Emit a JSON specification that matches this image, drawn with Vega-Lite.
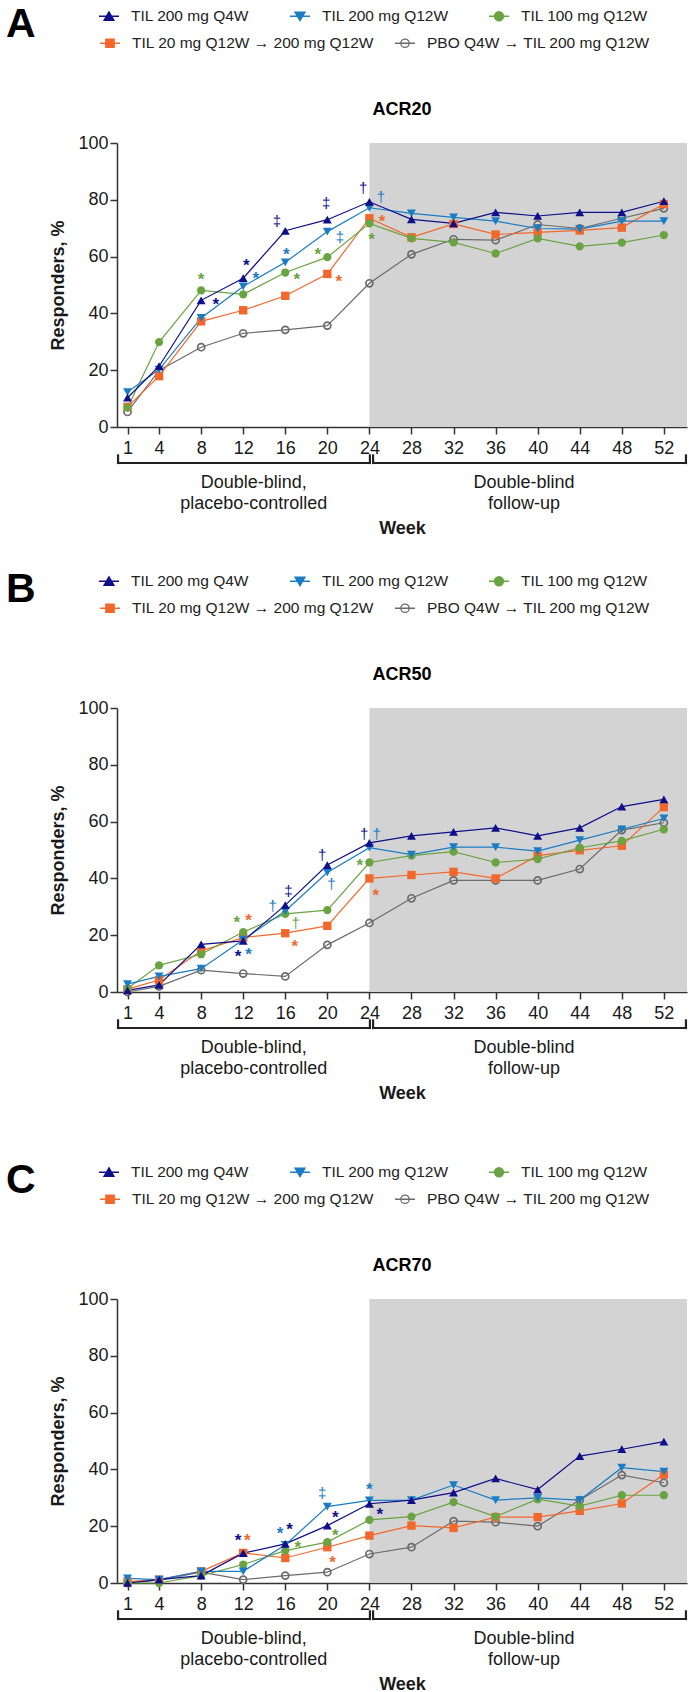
{
  "$schema": "https://vega.github.io/schema/vega-lite/v6.json",
  "background": "white",
  "padding": {"left": 6, "top": 5, "right": 0, "bottom": 0},
  "config": {
    "font": "Liberation Sans",
    "view": {"stroke": null},
    "axis": {"grid": false, "domainColor": "#333333", "tickColor": "#333333", "domainWidth": 1.5, "tickWidth": 1.5, "labelColor": "#1a1a1a", "titleColor": "#1a1a1a", "labelFontSize": 18, "titleFontSize": 18, "titleFontWeight": "bold", "tickSize": 7, "zindex": 1},
    "legend": {"orient": "none", "direction": "horizontal", "rowPadding": 7, "titleOrient": "left", "titleAnchor": "start", "titleBaseline": "top", "titleFontSize": 41, "titleFontWeight": "bold", "titleColor": "#000000", "titlePadding": 62, "symbolSize": 400, "symbolStrokeWidth": 1.3, "labelFontSize": 15.5, "labelOffset": 11, "labelColor": "#222222", "labelLimit": 400}
  },
  "datasets": {
    "shade": [{"start": 24, "end": 54.2}],
    "phases": [
      {"label": "Double-blind,\nplacebo-controlled", "start": 0.1, "end": 24.05, "center": 13},
      {"label": "Double-blind\nfollow-up", "start": 24.35, "end": 54.1, "center": 38.7}
    ],
    "acr20": [
      {"s": "PBO Q4W → TIL 200 mg Q12W", "w": 1, "v": 5.3}, {"s": "PBO Q4W → TIL 200 mg Q12W", "w": 4, "v": 19.9}, {"s": "PBO Q4W → TIL 200 mg Q12W", "w": 8, "v": 28.1}, {"s": "PBO Q4W → TIL 200 mg Q12W", "w": 12, "v": 33.0}, {"s": "PBO Q4W → TIL 200 mg Q12W", "w": 16, "v": 34.2}, {"s": "PBO Q4W → TIL 200 mg Q12W", "w": 20, "v": 35.7}, {"s": "PBO Q4W → TIL 200 mg Q12W", "w": 24, "v": 50.6}, {"s": "PBO Q4W → TIL 200 mg Q12W", "w": 28, "v": 60.8}, {"s": "PBO Q4W → TIL 200 mg Q12W", "w": 32, "v": 66.1}, {"s": "PBO Q4W → TIL 200 mg Q12W", "w": 36, "v": 65.8}, {"s": "PBO Q4W → TIL 200 mg Q12W", "w": 40, "v": 71.3}, {"s": "PBO Q4W → TIL 200 mg Q12W", "w": 44, "v": 69.9}, {"s": "PBO Q4W → TIL 200 mg Q12W", "w": 48, "v": 73.5}, {"s": "PBO Q4W → TIL 200 mg Q12W", "w": 52, "v": 77.0},
      {"s": "TIL 20 mg Q12W → 200 mg Q12W", "w": 1, "v": 7.1}, {"s": "TIL 20 mg Q12W → 200 mg Q12W", "w": 4, "v": 17.9}, {"s": "TIL 20 mg Q12W → 200 mg Q12W", "w": 8, "v": 37.2}, {"s": "TIL 20 mg Q12W → 200 mg Q12W", "w": 12, "v": 41.1}, {"s": "TIL 20 mg Q12W → 200 mg Q12W", "w": 16, "v": 46.2}, {"s": "TIL 20 mg Q12W → 200 mg Q12W", "w": 20, "v": 53.9}, {"s": "TIL 20 mg Q12W → 200 mg Q12W", "w": 24, "v": 73.5}, {"s": "TIL 20 mg Q12W → 200 mg Q12W", "w": 28, "v": 66.8}, {"s": "TIL 20 mg Q12W → 200 mg Q12W", "w": 32, "v": 71.5}, {"s": "TIL 20 mg Q12W → 200 mg Q12W", "w": 36, "v": 67.8}, {"s": "TIL 20 mg Q12W → 200 mg Q12W", "w": 40, "v": 68.5}, {"s": "TIL 20 mg Q12W → 200 mg Q12W", "w": 44, "v": 69.2}, {"s": "TIL 20 mg Q12W → 200 mg Q12W", "w": 48, "v": 70.2}, {"s": "TIL 20 mg Q12W → 200 mg Q12W", "w": 52, "v": 78.5},
      {"s": "TIL 100 mg Q12W", "w": 1, "v": 6.8}, {"s": "TIL 100 mg Q12W", "w": 4, "v": 29.9}, {"s": "TIL 100 mg Q12W", "w": 8, "v": 48.1}, {"s": "TIL 100 mg Q12W", "w": 12, "v": 46.7}, {"s": "TIL 100 mg Q12W", "w": 16, "v": 54.4}, {"s": "TIL 100 mg Q12W", "w": 20, "v": 59.8}, {"s": "TIL 100 mg Q12W", "w": 24, "v": 71.7}, {"s": "TIL 100 mg Q12W", "w": 28, "v": 66.4}, {"s": "TIL 100 mg Q12W", "w": 32, "v": 65.0}, {"s": "TIL 100 mg Q12W", "w": 36, "v": 61.1}, {"s": "TIL 100 mg Q12W", "w": 40, "v": 66.4}, {"s": "TIL 100 mg Q12W", "w": 44, "v": 63.6}, {"s": "TIL 100 mg Q12W", "w": 48, "v": 64.9}, {"s": "TIL 100 mg Q12W", "w": 52, "v": 67.6},
      {"s": "TIL 200 mg Q12W", "w": 1, "v": 12.3}, {"s": "TIL 200 mg Q12W", "w": 4, "v": 20.2}, {"s": "TIL 200 mg Q12W", "w": 8, "v": 38.4}, {"s": "TIL 200 mg Q12W", "w": 12, "v": 49.5}, {"s": "TIL 200 mg Q12W", "w": 16, "v": 58.0}, {"s": "TIL 200 mg Q12W", "w": 20, "v": 68.8}, {"s": "TIL 200 mg Q12W", "w": 24, "v": 77.2}, {"s": "TIL 200 mg Q12W", "w": 28, "v": 75.2}, {"s": "TIL 200 mg Q12W", "w": 32, "v": 73.8}, {"s": "TIL 200 mg Q12W", "w": 36, "v": 72.5}, {"s": "TIL 200 mg Q12W", "w": 40, "v": 69.9}, {"s": "TIL 200 mg Q12W", "w": 44, "v": 69.7}, {"s": "TIL 200 mg Q12W", "w": 48, "v": 72.5}, {"s": "TIL 200 mg Q12W", "w": 52, "v": 72.5},
      {"s": "TIL 200 mg Q4W", "w": 1, "v": 10.3}, {"s": "TIL 200 mg Q4W", "w": 4, "v": 21.4}, {"s": "TIL 200 mg Q4W", "w": 8, "v": 44.6}, {"s": "TIL 200 mg Q4W", "w": 12, "v": 52.4}, {"s": "TIL 200 mg Q4W", "w": 16, "v": 69.1}, {"s": "TIL 200 mg Q4W", "w": 20, "v": 73.0}, {"s": "TIL 200 mg Q4W", "w": 24, "v": 79.3}, {"s": "TIL 200 mg Q4W", "w": 28, "v": 73.1}, {"s": "TIL 200 mg Q4W", "w": 32, "v": 71.7}, {"s": "TIL 200 mg Q4W", "w": 36, "v": 75.6}, {"s": "TIL 200 mg Q4W", "w": 40, "v": 74.3}, {"s": "TIL 200 mg Q4W", "w": 44, "v": 75.6}, {"s": "TIL 200 mg Q4W", "w": 48, "v": 75.6}, {"s": "TIL 200 mg Q4W", "w": 52, "v": 79.5}
    ],
    "acr50": [
      {"s": "PBO Q4W → TIL 200 mg Q12W", "w": 1, "v": 0.0}, {"s": "PBO Q4W → TIL 200 mg Q12W", "w": 4, "v": 2.0}, {"s": "PBO Q4W → TIL 200 mg Q12W", "w": 8, "v": 7.7}, {"s": "PBO Q4W → TIL 200 mg Q12W", "w": 12, "v": 6.5}, {"s": "PBO Q4W → TIL 200 mg Q12W", "w": 16, "v": 5.5}, {"s": "PBO Q4W → TIL 200 mg Q12W", "w": 20, "v": 16.6}, {"s": "PBO Q4W → TIL 200 mg Q12W", "w": 24, "v": 24.3}, {"s": "PBO Q4W → TIL 200 mg Q12W", "w": 28, "v": 33.0}, {"s": "PBO Q4W → TIL 200 mg Q12W", "w": 32, "v": 39.3}, {"s": "PBO Q4W → TIL 200 mg Q12W", "w": 36, "v": 39.3}, {"s": "PBO Q4W → TIL 200 mg Q12W", "w": 40, "v": 39.3}, {"s": "PBO Q4W → TIL 200 mg Q12W", "w": 44, "v": 43.3}, {"s": "PBO Q4W → TIL 200 mg Q12W", "w": 48, "v": 57.0}, {"s": "PBO Q4W → TIL 200 mg Q12W", "w": 52, "v": 59.6},
      {"s": "TIL 20 mg Q12W → 200 mg Q12W", "w": 1, "v": 1.0}, {"s": "TIL 20 mg Q12W → 200 mg Q12W", "w": 4, "v": 4.2}, {"s": "TIL 20 mg Q12W → 200 mg Q12W", "w": 8, "v": 14.5}, {"s": "TIL 20 mg Q12W → 200 mg Q12W", "w": 12, "v": 19.2}, {"s": "TIL 20 mg Q12W → 200 mg Q12W", "w": 16, "v": 20.7}, {"s": "TIL 20 mg Q12W → 200 mg Q12W", "w": 20, "v": 23.3}, {"s": "TIL 20 mg Q12W → 200 mg Q12W", "w": 24, "v": 40.0}, {"s": "TIL 20 mg Q12W → 200 mg Q12W", "w": 28, "v": 41.2}, {"s": "TIL 20 mg Q12W → 200 mg Q12W", "w": 32, "v": 42.3}, {"s": "TIL 20 mg Q12W → 200 mg Q12W", "w": 36, "v": 40.0}, {"s": "TIL 20 mg Q12W → 200 mg Q12W", "w": 40, "v": 48.0}, {"s": "TIL 20 mg Q12W → 200 mg Q12W", "w": 44, "v": 49.9}, {"s": "TIL 20 mg Q12W → 200 mg Q12W", "w": 48, "v": 51.5}, {"s": "TIL 20 mg Q12W → 200 mg Q12W", "w": 52, "v": 65.1},
      {"s": "TIL 100 mg Q12W", "w": 1, "v": 1.2}, {"s": "TIL 100 mg Q12W", "w": 4, "v": 9.4}, {"s": "TIL 100 mg Q12W", "w": 8, "v": 13.3}, {"s": "TIL 100 mg Q12W", "w": 12, "v": 21.1}, {"s": "TIL 100 mg Q12W", "w": 16, "v": 27.5}, {"s": "TIL 100 mg Q12W", "w": 20, "v": 28.8}, {"s": "TIL 100 mg Q12W", "w": 24, "v": 45.6}, {"s": "TIL 100 mg Q12W", "w": 28, "v": 48.0}, {"s": "TIL 100 mg Q12W", "w": 32, "v": 49.4}, {"s": "TIL 100 mg Q12W", "w": 36, "v": 45.6}, {"s": "TIL 100 mg Q12W", "w": 40, "v": 46.8}, {"s": "TIL 100 mg Q12W", "w": 44, "v": 50.8}, {"s": "TIL 100 mg Q12W", "w": 48, "v": 53.2}, {"s": "TIL 100 mg Q12W", "w": 52, "v": 57.3},
      {"s": "TIL 200 mg Q12W", "w": 1, "v": 2.8}, {"s": "TIL 200 mg Q12W", "w": 4, "v": 5.5}, {"s": "TIL 200 mg Q12W", "w": 8, "v": 8.2}, {"s": "TIL 200 mg Q12W", "w": 12, "v": 18.4}, {"s": "TIL 200 mg Q12W", "w": 16, "v": 28.5}, {"s": "TIL 200 mg Q12W", "w": 20, "v": 42.1}, {"s": "TIL 200 mg Q12W", "w": 24, "v": 50.8}, {"s": "TIL 200 mg Q12W", "w": 28, "v": 48.4}, {"s": "TIL 200 mg Q12W", "w": 32, "v": 51.0}, {"s": "TIL 200 mg Q12W", "w": 36, "v": 51.0}, {"s": "TIL 200 mg Q12W", "w": 40, "v": 49.6}, {"s": "TIL 200 mg Q12W", "w": 44, "v": 53.5}, {"s": "TIL 200 mg Q12W", "w": 48, "v": 57.3}, {"s": "TIL 200 mg Q12W", "w": 52, "v": 61.1},
      {"s": "TIL 200 mg Q4W", "w": 1, "v": 0.6}, {"s": "TIL 200 mg Q4W", "w": 4, "v": 2.5}, {"s": "TIL 200 mg Q4W", "w": 8, "v": 16.8}, {"s": "TIL 200 mg Q4W", "w": 12, "v": 18.0}, {"s": "TIL 200 mg Q4W", "w": 16, "v": 30.6}, {"s": "TIL 200 mg Q4W", "w": 20, "v": 44.7}, {"s": "TIL 200 mg Q4W", "w": 24, "v": 52.5}, {"s": "TIL 200 mg Q4W", "w": 28, "v": 55.0}, {"s": "TIL 200 mg Q4W", "w": 32, "v": 56.4}, {"s": "TIL 200 mg Q4W", "w": 36, "v": 57.8}, {"s": "TIL 200 mg Q4W", "w": 40, "v": 55.0}, {"s": "TIL 200 mg Q4W", "w": 44, "v": 57.8}, {"s": "TIL 200 mg Q4W", "w": 48, "v": 65.3}, {"s": "TIL 200 mg Q4W", "w": 52, "v": 67.8}
    ],
    "acr70": [
      {"s": "PBO Q4W → TIL 200 mg Q12W", "w": 1, "v": 0.0}, {"s": "PBO Q4W → TIL 200 mg Q12W", "w": 4, "v": 1.0}, {"s": "PBO Q4W → TIL 200 mg Q12W", "w": 8, "v": 3.8}, {"s": "PBO Q4W → TIL 200 mg Q12W", "w": 12, "v": 1.2}, {"s": "PBO Q4W → TIL 200 mg Q12W", "w": 16, "v": 2.6}, {"s": "PBO Q4W → TIL 200 mg Q12W", "w": 20, "v": 3.8}, {"s": "PBO Q4W → TIL 200 mg Q12W", "w": 24, "v": 10.2}, {"s": "PBO Q4W → TIL 200 mg Q12W", "w": 28, "v": 12.6}, {"s": "PBO Q4W → TIL 200 mg Q12W", "w": 32, "v": 21.8}, {"s": "PBO Q4W → TIL 200 mg Q12W", "w": 36, "v": 21.4}, {"s": "PBO Q4W → TIL 200 mg Q12W", "w": 40, "v": 20.0}, {"s": "PBO Q4W → TIL 200 mg Q12W", "w": 44, "v": 29.2}, {"s": "PBO Q4W → TIL 200 mg Q12W", "w": 48, "v": 38.0}, {"s": "PBO Q4W → TIL 200 mg Q12W", "w": 52, "v": 35.3},
      {"s": "TIL 20 mg Q12W → 200 mg Q12W", "w": 1, "v": 0.5}, {"s": "TIL 20 mg Q12W → 200 mg Q12W", "w": 4, "v": 1.2}, {"s": "TIL 20 mg Q12W → 200 mg Q12W", "w": 8, "v": 4.1}, {"s": "TIL 20 mg Q12W → 200 mg Q12W", "w": 12, "v": 10.6}, {"s": "TIL 20 mg Q12W → 200 mg Q12W", "w": 16, "v": 8.8}, {"s": "TIL 20 mg Q12W → 200 mg Q12W", "w": 20, "v": 12.6}, {"s": "TIL 20 mg Q12W → 200 mg Q12W", "w": 24, "v": 16.7}, {"s": "TIL 20 mg Q12W → 200 mg Q12W", "w": 28, "v": 20.2}, {"s": "TIL 20 mg Q12W → 200 mg Q12W", "w": 32, "v": 19.4}, {"s": "TIL 20 mg Q12W → 200 mg Q12W", "w": 36, "v": 23.2}, {"s": "TIL 20 mg Q12W → 200 mg Q12W", "w": 40, "v": 23.2}, {"s": "TIL 20 mg Q12W → 200 mg Q12W", "w": 44, "v": 25.4}, {"s": "TIL 20 mg Q12W → 200 mg Q12W", "w": 48, "v": 28.0}, {"s": "TIL 20 mg Q12W → 200 mg Q12W", "w": 52, "v": 38.2},
      {"s": "TIL 100 mg Q12W", "w": 1, "v": 0.0}, {"s": "TIL 100 mg Q12W", "w": 4, "v": 0.0}, {"s": "TIL 100 mg Q12W", "w": 8, "v": 2.6}, {"s": "TIL 100 mg Q12W", "w": 12, "v": 6.5}, {"s": "TIL 100 mg Q12W", "w": 16, "v": 11.4}, {"s": "TIL 100 mg Q12W", "w": 20, "v": 14.4}, {"s": "TIL 100 mg Q12W", "w": 24, "v": 22.2}, {"s": "TIL 100 mg Q12W", "w": 28, "v": 23.4}, {"s": "TIL 100 mg Q12W", "w": 32, "v": 28.5}, {"s": "TIL 100 mg Q12W", "w": 36, "v": 23.4}, {"s": "TIL 100 mg Q12W", "w": 40, "v": 29.5}, {"s": "TIL 100 mg Q12W", "w": 44, "v": 27.1}, {"s": "TIL 100 mg Q12W", "w": 48, "v": 30.9}, {"s": "TIL 100 mg Q12W", "w": 52, "v": 30.9},
      {"s": "TIL 200 mg Q12W", "w": 1, "v": 1.6}, {"s": "TIL 200 mg Q12W", "w": 4, "v": 1.2}, {"s": "TIL 200 mg Q12W", "w": 8, "v": 4.1}, {"s": "TIL 200 mg Q12W", "w": 12, "v": 4.1}, {"s": "TIL 200 mg Q12W", "w": 16, "v": 13.4}, {"s": "TIL 200 mg Q12W", "w": 20, "v": 26.9}, {"s": "TIL 200 mg Q12W", "w": 24, "v": 29.1}, {"s": "TIL 200 mg Q12W", "w": 28, "v": 29.2}, {"s": "TIL 200 mg Q12W", "w": 32, "v": 34.5}, {"s": "TIL 200 mg Q12W", "w": 36, "v": 29.2}, {"s": "TIL 200 mg Q12W", "w": 40, "v": 30.0}, {"s": "TIL 200 mg Q12W", "w": 44, "v": 29.2}, {"s": "TIL 200 mg Q12W", "w": 48, "v": 40.6}, {"s": "TIL 200 mg Q12W", "w": 52, "v": 39.2},
      {"s": "TIL 200 mg Q4W", "w": 1, "v": 0.0}, {"s": "TIL 200 mg Q4W", "w": 4, "v": 1.2}, {"s": "TIL 200 mg Q4W", "w": 8, "v": 2.6}, {"s": "TIL 200 mg Q4W", "w": 12, "v": 10.5}, {"s": "TIL 200 mg Q4W", "w": 16, "v": 13.8}, {"s": "TIL 200 mg Q4W", "w": 20, "v": 20.2}, {"s": "TIL 200 mg Q4W", "w": 24, "v": 27.9}, {"s": "TIL 200 mg Q4W", "w": 28, "v": 29.2}, {"s": "TIL 200 mg Q4W", "w": 32, "v": 31.8}, {"s": "TIL 200 mg Q4W", "w": 36, "v": 36.8}, {"s": "TIL 200 mg Q4W", "w": 40, "v": 32.9}, {"s": "TIL 200 mg Q4W", "w": 44, "v": 44.7}, {"s": "TIL 200 mg Q4W", "w": 48, "v": 47.1}, {"s": "TIL 200 mg Q4W", "w": 52, "v": 49.8}
    ],
    "ann20": [
      {"s": "TIL 100 mg Q12W", "w": 8, "v": 53, "t": "*"},
      {"s": "TIL 200 mg Q4W", "w": 9.4, "v": 44.4, "t": "*"},
      {"s": "TIL 200 mg Q4W", "w": 12.3, "v": 58, "t": "*"},
      {"s": "TIL 200 mg Q12W", "w": 13.2, "v": 53.6, "t": "*"},
      {"s": "TIL 200 mg Q4W", "w": 15.2, "v": 72.5, "t": "‡"},
      {"s": "TIL 200 mg Q12W", "w": 16.1, "v": 61.8, "t": "*"},
      {"s": "TIL 100 mg Q12W", "w": 17.1, "v": 53.3, "t": "*"},
      {"s": "TIL 100 mg Q12W", "w": 19.1, "v": 61.8, "t": "*"},
      {"s": "TIL 200 mg Q4W", "w": 19.9, "v": 78.7, "t": "‡"},
      {"s": "TIL 200 mg Q12W", "w": 21.2, "v": 67, "t": "‡"},
      {"s": "TIL 20 mg Q12W → 200 mg Q12W", "w": 21.1, "v": 52.6, "t": "*"},
      {"s": "TIL 200 mg Q4W", "w": 23.4, "v": 84, "t": "†"},
      {"s": "TIL 200 mg Q12W", "w": 25.1, "v": 81, "t": "†"},
      {"s": "TIL 20 mg Q12W → 200 mg Q12W", "w": 25.2, "v": 73.7, "t": "*"},
      {"s": "TIL 100 mg Q12W", "w": 24.2, "v": 67.4, "t": "*"}
    ],
    "ann50": [
      {"s": "TIL 100 mg Q12W", "w": 11.4, "v": 25.7, "t": "*"},
      {"s": "TIL 20 mg Q12W → 200 mg Q12W", "w": 12.5, "v": 26.4, "t": "*"},
      {"s": "TIL 200 mg Q4W", "w": 11.5, "v": 13.7, "t": "*"},
      {"s": "TIL 200 mg Q12W", "w": 12.5, "v": 14.5, "t": "*"},
      {"s": "TIL 200 mg Q12W", "w": 14.8, "v": 30.4, "t": "†"},
      {"s": "TIL 200 mg Q4W", "w": 16.3, "v": 35.6, "t": "‡"},
      {"s": "TIL 100 mg Q12W", "w": 17.0, "v": 24.2, "t": "†"},
      {"s": "TIL 20 mg Q12W → 200 mg Q12W", "w": 16.9, "v": 17.2, "t": "*"},
      {"s": "TIL 200 mg Q4W", "w": 19.5, "v": 48.4, "t": "†"},
      {"s": "TIL 200 mg Q12W", "w": 20.4, "v": 37.9, "t": "†"},
      {"s": "TIL 200 mg Q4W", "w": 23.5, "v": 55.8, "t": "†"},
      {"s": "TIL 200 mg Q12W", "w": 24.7, "v": 55.8, "t": "†"},
      {"s": "TIL 100 mg Q12W", "w": 23.1, "v": 45.6, "t": "*"},
      {"s": "TIL 20 mg Q12W → 200 mg Q12W", "w": 24.6, "v": 35.3, "t": "*"}
    ],
    "ann70": [
      {"s": "TIL 200 mg Q4W", "w": 11.5, "v": 16.1, "t": "*"},
      {"s": "TIL 20 mg Q12W → 200 mg Q12W", "w": 12.4, "v": 16.1, "t": "*"},
      {"s": "TIL 200 mg Q12W", "w": 15.5, "v": 18.8, "t": "*"},
      {"s": "TIL 200 mg Q4W", "w": 16.4, "v": 20.0, "t": "*"},
      {"s": "TIL 100 mg Q12W", "w": 17.2, "v": 13.8, "t": "*"},
      {"s": "TIL 200 mg Q12W", "w": 19.5, "v": 31.6, "t": "‡"},
      {"s": "TIL 200 mg Q4W", "w": 20.75, "v": 24.4, "t": "*"},
      {"s": "TIL 100 mg Q12W", "w": 20.75, "v": 17.9, "t": "*"},
      {"s": "TIL 20 mg Q12W → 200 mg Q12W", "w": 20.5, "v": 8.5, "t": "*"},
      {"s": "TIL 200 mg Q12W", "w": 24.0, "v": 34.0, "t": "*"},
      {"s": "TIL 200 mg Q4W", "w": 25.0, "v": 25.5, "t": "*"}
    ]
  },
  "spacing": 59,
  "resolve": {"scale": {"fill": "independent", "stroke": "independent", "shape": "independent"}, "legend": {"fill": "independent", "stroke": "independent", "shape": "independent"}},
  "vconcat": [
    {
      "spacing": 33,
      "resolve": {"scale": {"fill": "independent", "stroke": "independent", "shape": "independent"}, "legend": {"fill": "independent", "stroke": "independent", "shape": "independent"}},
      "vconcat": [
        {
          "width": 570, "height": 284,
          "title": {"text": "ACR20", "frame": "group", "anchor": "middle", "baseline": "middle", "offset": -123, "fontSize": 18, "fontWeight": "bold", "color": "#000000"},
          "resolve": {"scale": {"fill": "independent", "stroke": "independent", "shape": "independent"}, "legend": {"fill": "independent", "stroke": "independent", "shape": "independent"}},
          "layer": [
            {"data": {"name": "shade"}, "mark": {"type": "rect", "color": "#D3D3D3"},
             "encoding": {"x": {"field": "start", "type": "quantitative", "scale": {"domain": [0, 54.2], "nice": false, "zero": false}}, "x2": {"field": "end"},
                          "y": {"datum": 0, "type": "quantitative", "scale": {"domain": [0, 100], "nice": false}}, "y2": {"datum": 100}}},
            {"data": {"name": "phases"}, "mark": {"type": "rule", "strokeWidth": 2.2, "color": "#222222", "strokeCap": "square"},
             "encoding": {"x": {"field": "start", "type": "quantitative"}, "x2": {"field": "end"}, "y": {"datum": -12.68, "type": "quantitative"}}},
            {"data": {"name": "phases"}, "mark": {"type": "rule", "strokeWidth": 2.2, "color": "#222222", "strokeCap": "square"},
             "encoding": {"x": {"field": "start", "type": "quantitative"}, "y": {"datum": -12.68, "type": "quantitative"}, "y2": {"datum": -10.0}}},
            {"data": {"name": "phases"}, "mark": {"type": "rule", "strokeWidth": 2.2, "color": "#222222", "strokeCap": "square"},
             "encoding": {"x": {"field": "end", "type": "quantitative"}, "y": {"datum": -12.68, "type": "quantitative"}, "y2": {"datum": -10.0}}},
            {"data": {"name": "phases"}, "mark": {"type": "text", "fontSize": 18, "lineBreak": "\n", "lineHeight": 21, "baseline": "top", "align": "center", "color": "#1a1a1a"},
             "encoding": {"x": {"field": "center", "type": "quantitative"}, "y": {"datum": -16.6, "type": "quantitative"}, "text": {"field": "label"}}},
            {"data": {"name": "acr20"}, "mark": {"type": "line", "strokeWidth": 1.2},
             "encoding": {
               "x": {"field": "w", "type": "quantitative", "scale": {"domain": [0, 54.2], "nice": false, "zero": false}, "axis": {"values": [1, 4, 8, 12, 16, 20, 24, 28, 32, 36, 40, 44, 48, 52], "title": "Week", "labelPadding": 5, "titlePadding": 62, "labelOverlap": false, "labelFlush": false}},
               "y": {"field": "v", "type": "quantitative", "scale": {"domain": [0, 100], "nice": false}, "axis": {"values": [0, 20, 40, 60, 80, 100], "title": "Responders, %", "labelPadding": 2, "titlePadding": 10}},
               "color": {"field": "s", "type": "nominal", "legend": null, "scale": {"domain": ["TIL 200 mg Q4W", "TIL 200 mg Q12W", "TIL 100 mg Q12W", "TIL 20 mg Q12W → 200 mg Q12W", "PBO Q4W → TIL 200 mg Q12W"], "range": ["#0F0F8A", "#1A7CC4", "#6AA342", "#F2682C", "#6B6B6B"]}}
             }},
            {"data": {"name": "acr20"}, "transform": [{"filter": "datum.s === 'PBO Q4W → TIL 200 mg Q12W'"}], "mark": {"type": "point", "shape": "circle", "filled": false, "opacity": 1, "size": 50, "strokeWidth": 1.7, "color": "#6B6B6B"},
             "encoding": {"x": {"field": "w", "type": "quantitative"}, "y": {"field": "v", "type": "quantitative"}}},
            {"data": {"name": "acr20"}, "transform": [{"filter": "datum.s === 'TIL 20 mg Q12W → 200 mg Q12W'"}], "mark": {"type": "point", "shape": "square", "filled": true, "opacity": 1, "size": 70, "color": "#F2682C"},
             "encoding": {"x": {"field": "w", "type": "quantitative"}, "y": {"field": "v", "type": "quantitative"}}},
            {"data": {"name": "acr20"}, "transform": [{"filter": "datum.s === 'TIL 100 mg Q12W'"}], "mark": {"type": "point", "shape": "circle", "filled": true, "opacity": 1, "size": 68, "color": "#6AA342"},
             "encoding": {"x": {"field": "w", "type": "quantitative"}, "y": {"field": "v", "type": "quantitative"}}},
            {"data": {"name": "acr20"}, "transform": [{"filter": "datum.s === 'TIL 200 mg Q12W'"}], "mark": {"type": "point", "shape": "triangle-down", "filled": true, "opacity": 1, "size": 80, "color": "#1A7CC4"},
             "encoding": {"x": {"field": "w", "type": "quantitative"}, "y": {"field": "v", "type": "quantitative"}}},
            {"data": {"name": "acr20"}, "transform": [{"filter": "datum.s === 'TIL 200 mg Q4W'"}], "mark": {"type": "point", "shape": "triangle-up", "filled": true, "opacity": 1, "size": 80, "color": "#0F0F8A"},
             "encoding": {"x": {"field": "w", "type": "quantitative"}, "y": {"field": "v", "type": "quantitative"}}},
            {"data": {"name": "acr20"}, "transform": [{"filter": "false"}], "mark": {"type": "point", "filled": true, "opacity": 1},
             "encoding": {"x": {"field": "w", "type": "quantitative"}, "y": {"field": "v", "type": "quantitative"},
               "fill": {"field": "s", "type": "nominal", "legend": {"title": "A", "legendX": -111, "legendY": -138, "columns": 3, "columnPadding": 37}, "scale": {"domain": ["TIL 200 mg Q4W", "TIL 200 mg Q12W", "TIL 100 mg Q12W"], "range": ["#0F0F8A", "#1A7CC4", "#6AA342"]}},
               "stroke": {"field": "s", "type": "nominal", "legend": {"title": "A", "legendX": -111, "legendY": -138, "columns": 3, "columnPadding": 37}, "scale": {"domain": ["TIL 200 mg Q4W", "TIL 200 mg Q12W", "TIL 100 mg Q12W"], "range": ["#0F0F8A", "#1A7CC4", "#6AA342"]}},
               "shape": {"field": "s", "type": "nominal", "legend": {"title": "A", "legendX": -111, "legendY": -138, "columns": 3, "columnPadding": 37}, "scale": {"domain": ["TIL 200 mg Q4W", "TIL 200 mg Q12W", "TIL 100 mg Q12W"], "range": ["M-1,0H1M0,-0.45L0.5,0.4H-0.5Z", "M-1,0H1M0,0.45L0.5,-0.4H-0.5Z", "M-1,0H1M0.45,0A0.45,0.45,0,1,1,-0.45,0A0.45,0.45,0,1,1,0.45,0Z"]}}
             }},
            {"data": {"name": "acr20"}, "transform": [{"filter": "false"}], "mark": {"type": "point", "filled": true, "opacity": 1},
             "encoding": {"x": {"field": "w", "type": "quantitative"}, "y": {"field": "v", "type": "quantitative"},
               "fill": {"field": "s", "type": "nominal", "legend": {"title": null, "legendX": -18, "legendY": -111, "columns": 2, "columnPadding": 17}, "scale": {"domain": ["TIL 20 mg Q12W → 200 mg Q12W", "PBO Q4W → TIL 200 mg Q12W"], "range": ["#F2682C", "transparent"]}},
               "stroke": {"field": "s", "type": "nominal", "legend": {"title": null, "legendX": -18, "legendY": -111, "columns": 2, "columnPadding": 17}, "scale": {"domain": ["TIL 20 mg Q12W → 200 mg Q12W", "PBO Q4W → TIL 200 mg Q12W"], "range": ["#F2682C", "#6B6B6B"]}},
               "shape": {"field": "s", "type": "nominal", "legend": {"title": null, "legendX": -18, "legendY": -111, "columns": 2, "columnPadding": 17}, "scale": {"domain": ["TIL 20 mg Q12W → 200 mg Q12W", "PBO Q4W → TIL 200 mg Q12W"], "range": ["M-1,0H1M-0.42,-0.42H0.42V0.42H-0.42Z", "M-1,0H1M0.42,0A0.42,0.42,0,1,1,-0.42,0A0.42,0.42,0,1,1,0.42,0Z"]}}
             }},
            {"data": {"name": "ann20"}, "transform": [{"filter": "datum.t === '*'"}], "mark": {"type": "text", "fontSize": 17, "fontWeight": "bold", "dy": 4, "align": "center", "baseline": "middle"},
             "encoding": {"x": {"field": "w", "type": "quantitative"}, "y": {"field": "v", "type": "quantitative"}, "text": {"field": "t"},
               "color": {"field": "s", "type": "nominal", "legend": null, "scale": {"domain": ["TIL 200 mg Q4W", "TIL 200 mg Q12W", "TIL 100 mg Q12W", "TIL 20 mg Q12W → 200 mg Q12W", "PBO Q4W → TIL 200 mg Q12W"], "range": ["#0F0F8A", "#1A7CC4", "#6AA342", "#F2682C", "#6B6B6B"]}}}},
            {"data": {"name": "ann20"}, "transform": [{"filter": "datum.t !== '*'"}], "mark": {"type": "text", "fontSize": 15, "align": "center", "baseline": "middle"},
             "encoding": {"x": {"field": "w", "type": "quantitative"}, "y": {"field": "v", "type": "quantitative"}, "text": {"field": "t"},
               "color": {"field": "s", "type": "nominal", "legend": null, "scale": {"domain": ["TIL 200 mg Q4W", "TIL 200 mg Q12W", "TIL 100 mg Q12W", "TIL 20 mg Q12W → 200 mg Q12W", "PBO Q4W → TIL 200 mg Q12W"], "range": ["#0F0F8A", "#1A7CC4", "#6AA342", "#F2682C", "#6B6B6B"]}}}}
          ]
        },
        {
          "width": 570, "height": 284,
          "title": {"text": "ACR50", "frame": "group", "anchor": "middle", "baseline": "middle", "offset": -123, "fontSize": 18, "fontWeight": "bold", "color": "#000000"},
          "resolve": {"scale": {"fill": "independent", "stroke": "independent", "shape": "independent"}, "legend": {"fill": "independent", "stroke": "independent", "shape": "independent"}},
          "layer": [
            {"data": {"name": "shade"}, "mark": {"type": "rect", "color": "#D3D3D3"},
             "encoding": {"x": {"field": "start", "type": "quantitative", "scale": {"domain": [0, 54.2], "nice": false, "zero": false}}, "x2": {"field": "end"},
                          "y": {"datum": 0, "type": "quantitative", "scale": {"domain": [0, 100], "nice": false}}, "y2": {"datum": 100}}},
            {"data": {"name": "phases"}, "mark": {"type": "rule", "strokeWidth": 2.2, "color": "#222222", "strokeCap": "square"},
             "encoding": {"x": {"field": "start", "type": "quantitative"}, "x2": {"field": "end"}, "y": {"datum": -12.68, "type": "quantitative"}}},
            {"data": {"name": "phases"}, "mark": {"type": "rule", "strokeWidth": 2.2, "color": "#222222", "strokeCap": "square"},
             "encoding": {"x": {"field": "start", "type": "quantitative"}, "y": {"datum": -12.68, "type": "quantitative"}, "y2": {"datum": -10.0}}},
            {"data": {"name": "phases"}, "mark": {"type": "rule", "strokeWidth": 2.2, "color": "#222222", "strokeCap": "square"},
             "encoding": {"x": {"field": "end", "type": "quantitative"}, "y": {"datum": -12.68, "type": "quantitative"}, "y2": {"datum": -10.0}}},
            {"data": {"name": "phases"}, "mark": {"type": "text", "fontSize": 18, "lineBreak": "\n", "lineHeight": 21, "baseline": "top", "align": "center", "color": "#1a1a1a"},
             "encoding": {"x": {"field": "center", "type": "quantitative"}, "y": {"datum": -16.6, "type": "quantitative"}, "text": {"field": "label"}}},
            {"data": {"name": "acr50"}, "mark": {"type": "line", "strokeWidth": 1.2},
             "encoding": {
               "x": {"field": "w", "type": "quantitative", "scale": {"domain": [0, 54.2], "nice": false, "zero": false}, "axis": {"values": [1, 4, 8, 12, 16, 20, 24, 28, 32, 36, 40, 44, 48, 52], "title": "Week", "labelPadding": 5, "titlePadding": 62, "labelOverlap": false, "labelFlush": false}},
               "y": {"field": "v", "type": "quantitative", "scale": {"domain": [0, 100], "nice": false}, "axis": {"values": [0, 20, 40, 60, 80, 100], "title": "Responders, %", "labelPadding": 2, "titlePadding": 10}},
               "color": {"field": "s", "type": "nominal", "legend": null, "scale": {"domain": ["TIL 200 mg Q4W", "TIL 200 mg Q12W", "TIL 100 mg Q12W", "TIL 20 mg Q12W → 200 mg Q12W", "PBO Q4W → TIL 200 mg Q12W"], "range": ["#0F0F8A", "#1A7CC4", "#6AA342", "#F2682C", "#6B6B6B"]}}
             }},
            {"data": {"name": "acr50"}, "transform": [{"filter": "datum.s === 'PBO Q4W → TIL 200 mg Q12W'"}], "mark": {"type": "point", "shape": "circle", "filled": false, "opacity": 1, "size": 50, "strokeWidth": 1.7, "color": "#6B6B6B"},
             "encoding": {"x": {"field": "w", "type": "quantitative"}, "y": {"field": "v", "type": "quantitative"}}},
            {"data": {"name": "acr50"}, "transform": [{"filter": "datum.s === 'TIL 20 mg Q12W → 200 mg Q12W'"}], "mark": {"type": "point", "shape": "square", "filled": true, "opacity": 1, "size": 70, "color": "#F2682C"},
             "encoding": {"x": {"field": "w", "type": "quantitative"}, "y": {"field": "v", "type": "quantitative"}}},
            {"data": {"name": "acr50"}, "transform": [{"filter": "datum.s === 'TIL 100 mg Q12W'"}], "mark": {"type": "point", "shape": "circle", "filled": true, "opacity": 1, "size": 68, "color": "#6AA342"},
             "encoding": {"x": {"field": "w", "type": "quantitative"}, "y": {"field": "v", "type": "quantitative"}}},
            {"data": {"name": "acr50"}, "transform": [{"filter": "datum.s === 'TIL 200 mg Q12W'"}], "mark": {"type": "point", "shape": "triangle-down", "filled": true, "opacity": 1, "size": 80, "color": "#1A7CC4"},
             "encoding": {"x": {"field": "w", "type": "quantitative"}, "y": {"field": "v", "type": "quantitative"}}},
            {"data": {"name": "acr50"}, "transform": [{"filter": "datum.s === 'TIL 200 mg Q4W'"}], "mark": {"type": "point", "shape": "triangle-up", "filled": true, "opacity": 1, "size": 80, "color": "#0F0F8A"},
             "encoding": {"x": {"field": "w", "type": "quantitative"}, "y": {"field": "v", "type": "quantitative"}}},
            {"data": {"name": "acr50"}, "transform": [{"filter": "false"}], "mark": {"type": "point", "filled": true, "opacity": 1},
             "encoding": {"x": {"field": "w", "type": "quantitative"}, "y": {"field": "v", "type": "quantitative"},
               "fill": {"field": "s", "type": "nominal", "legend": {"title": "B", "legendX": -111, "legendY": -138, "columns": 3, "columnPadding": 37}, "scale": {"domain": ["TIL 200 mg Q4W", "TIL 200 mg Q12W", "TIL 100 mg Q12W"], "range": ["#0F0F8A", "#1A7CC4", "#6AA342"]}},
               "stroke": {"field": "s", "type": "nominal", "legend": {"title": "B", "legendX": -111, "legendY": -138, "columns": 3, "columnPadding": 37}, "scale": {"domain": ["TIL 200 mg Q4W", "TIL 200 mg Q12W", "TIL 100 mg Q12W"], "range": ["#0F0F8A", "#1A7CC4", "#6AA342"]}},
               "shape": {"field": "s", "type": "nominal", "legend": {"title": "B", "legendX": -111, "legendY": -138, "columns": 3, "columnPadding": 37}, "scale": {"domain": ["TIL 200 mg Q4W", "TIL 200 mg Q12W", "TIL 100 mg Q12W"], "range": ["M-1,0H1M0,-0.45L0.5,0.4H-0.5Z", "M-1,0H1M0,0.45L0.5,-0.4H-0.5Z", "M-1,0H1M0.45,0A0.45,0.45,0,1,1,-0.45,0A0.45,0.45,0,1,1,0.45,0Z"]}}
             }},
            {"data": {"name": "acr50"}, "transform": [{"filter": "false"}], "mark": {"type": "point", "filled": true, "opacity": 1},
             "encoding": {"x": {"field": "w", "type": "quantitative"}, "y": {"field": "v", "type": "quantitative"},
               "fill": {"field": "s", "type": "nominal", "legend": {"title": null, "legendX": -18, "legendY": -111, "columns": 2, "columnPadding": 17}, "scale": {"domain": ["TIL 20 mg Q12W → 200 mg Q12W", "PBO Q4W → TIL 200 mg Q12W"], "range": ["#F2682C", "transparent"]}},
               "stroke": {"field": "s", "type": "nominal", "legend": {"title": null, "legendX": -18, "legendY": -111, "columns": 2, "columnPadding": 17}, "scale": {"domain": ["TIL 20 mg Q12W → 200 mg Q12W", "PBO Q4W → TIL 200 mg Q12W"], "range": ["#F2682C", "#6B6B6B"]}},
               "shape": {"field": "s", "type": "nominal", "legend": {"title": null, "legendX": -18, "legendY": -111, "columns": 2, "columnPadding": 17}, "scale": {"domain": ["TIL 20 mg Q12W → 200 mg Q12W", "PBO Q4W → TIL 200 mg Q12W"], "range": ["M-1,0H1M-0.42,-0.42H0.42V0.42H-0.42Z", "M-1,0H1M0.42,0A0.42,0.42,0,1,1,-0.42,0A0.42,0.42,0,1,1,0.42,0Z"]}}
             }},
            {"data": {"name": "ann50"}, "transform": [{"filter": "datum.t === '*'"}], "mark": {"type": "text", "fontSize": 17, "fontWeight": "bold", "dy": 4, "align": "center", "baseline": "middle"},
             "encoding": {"x": {"field": "w", "type": "quantitative"}, "y": {"field": "v", "type": "quantitative"}, "text": {"field": "t"},
               "color": {"field": "s", "type": "nominal", "legend": null, "scale": {"domain": ["TIL 200 mg Q4W", "TIL 200 mg Q12W", "TIL 100 mg Q12W", "TIL 20 mg Q12W → 200 mg Q12W", "PBO Q4W → TIL 200 mg Q12W"], "range": ["#0F0F8A", "#1A7CC4", "#6AA342", "#F2682C", "#6B6B6B"]}}}},
            {"data": {"name": "ann50"}, "transform": [{"filter": "datum.t !== '*'"}], "mark": {"type": "text", "fontSize": 15, "align": "center", "baseline": "middle"},
             "encoding": {"x": {"field": "w", "type": "quantitative"}, "y": {"field": "v", "type": "quantitative"}, "text": {"field": "t"},
               "color": {"field": "s", "type": "nominal", "legend": null, "scale": {"domain": ["TIL 200 mg Q4W", "TIL 200 mg Q12W", "TIL 100 mg Q12W", "TIL 20 mg Q12W → 200 mg Q12W", "PBO Q4W → TIL 200 mg Q12W"], "range": ["#0F0F8A", "#1A7CC4", "#6AA342", "#F2682C", "#6B6B6B"]}}}}
          ]
        }
      ]
    },
    {
      "width": 570, "height": 284,
      "title": {"text": "ACR70", "frame": "group", "anchor": "middle", "baseline": "middle", "offset": -123, "fontSize": 18, "fontWeight": "bold", "color": "#000000"},
      "resolve": {"scale": {"fill": "independent", "stroke": "independent", "shape": "independent"}, "legend": {"fill": "independent", "stroke": "independent", "shape": "independent"}},
      "layer": [
        {"data": {"name": "shade"}, "mark": {"type": "rect", "color": "#D3D3D3"},
         "encoding": {"x": {"field": "start", "type": "quantitative", "scale": {"domain": [0, 54.2], "nice": false, "zero": false}}, "x2": {"field": "end"},
                      "y": {"datum": 0, "type": "quantitative", "scale": {"domain": [0, 100], "nice": false}}, "y2": {"datum": 100}}},
        {"data": {"name": "phases"}, "mark": {"type": "rule", "strokeWidth": 2.2, "color": "#222222", "strokeCap": "square"},
         "encoding": {"x": {"field": "start", "type": "quantitative"}, "x2": {"field": "end"}, "y": {"datum": -12.68, "type": "quantitative"}}},
        {"data": {"name": "phases"}, "mark": {"type": "rule", "strokeWidth": 2.2, "color": "#222222", "strokeCap": "square"},
         "encoding": {"x": {"field": "start", "type": "quantitative"}, "y": {"datum": -12.68, "type": "quantitative"}, "y2": {"datum": -10.0}}},
        {"data": {"name": "phases"}, "mark": {"type": "rule", "strokeWidth": 2.2, "color": "#222222", "strokeCap": "square"},
         "encoding": {"x": {"field": "end", "type": "quantitative"}, "y": {"datum": -12.68, "type": "quantitative"}, "y2": {"datum": -10.0}}},
        {"data": {"name": "phases"}, "mark": {"type": "text", "fontSize": 18, "lineBreak": "\n", "lineHeight": 21, "baseline": "top", "align": "center", "color": "#1a1a1a"},
         "encoding": {"x": {"field": "center", "type": "quantitative"}, "y": {"datum": -16.6, "type": "quantitative"}, "text": {"field": "label"}}},
        {"data": {"name": "acr70"}, "mark": {"type": "line", "strokeWidth": 1.2},
         "encoding": {
           "x": {"field": "w", "type": "quantitative", "scale": {"domain": [0, 54.2], "nice": false, "zero": false}, "axis": {"values": [1, 4, 8, 12, 16, 20, 24, 28, 32, 36, 40, 44, 48, 52], "title": "Week", "labelPadding": 5, "titlePadding": 62, "labelOverlap": false, "labelFlush": false}},
           "y": {"field": "v", "type": "quantitative", "scale": {"domain": [0, 100], "nice": false}, "axis": {"values": [0, 20, 40, 60, 80, 100], "title": "Responders, %", "labelPadding": 2, "titlePadding": 10}},
           "color": {"field": "s", "type": "nominal", "legend": null, "scale": {"domain": ["TIL 200 mg Q4W", "TIL 200 mg Q12W", "TIL 100 mg Q12W", "TIL 20 mg Q12W → 200 mg Q12W", "PBO Q4W → TIL 200 mg Q12W"], "range": ["#0F0F8A", "#1A7CC4", "#6AA342", "#F2682C", "#6B6B6B"]}}
         }},
        {"data": {"name": "acr70"}, "transform": [{"filter": "datum.s === 'PBO Q4W → TIL 200 mg Q12W'"}], "mark": {"type": "point", "shape": "circle", "filled": false, "opacity": 1, "size": 50, "strokeWidth": 1.7, "color": "#6B6B6B"},
         "encoding": {"x": {"field": "w", "type": "quantitative"}, "y": {"field": "v", "type": "quantitative"}}},
        {"data": {"name": "acr70"}, "transform": [{"filter": "datum.s === 'TIL 20 mg Q12W → 200 mg Q12W'"}], "mark": {"type": "point", "shape": "square", "filled": true, "opacity": 1, "size": 70, "color": "#F2682C"},
         "encoding": {"x": {"field": "w", "type": "quantitative"}, "y": {"field": "v", "type": "quantitative"}}},
        {"data": {"name": "acr70"}, "transform": [{"filter": "datum.s === 'TIL 100 mg Q12W'"}], "mark": {"type": "point", "shape": "circle", "filled": true, "opacity": 1, "size": 68, "color": "#6AA342"},
         "encoding": {"x": {"field": "w", "type": "quantitative"}, "y": {"field": "v", "type": "quantitative"}}},
        {"data": {"name": "acr70"}, "transform": [{"filter": "datum.s === 'TIL 200 mg Q12W'"}], "mark": {"type": "point", "shape": "triangle-down", "filled": true, "opacity": 1, "size": 80, "color": "#1A7CC4"},
         "encoding": {"x": {"field": "w", "type": "quantitative"}, "y": {"field": "v", "type": "quantitative"}}},
        {"data": {"name": "acr70"}, "transform": [{"filter": "datum.s === 'TIL 200 mg Q4W'"}], "mark": {"type": "point", "shape": "triangle-up", "filled": true, "opacity": 1, "size": 80, "color": "#0F0F8A"},
         "encoding": {"x": {"field": "w", "type": "quantitative"}, "y": {"field": "v", "type": "quantitative"}}},
        {"data": {"name": "acr70"}, "transform": [{"filter": "false"}], "mark": {"type": "point", "filled": true, "opacity": 1},
         "encoding": {"x": {"field": "w", "type": "quantitative"}, "y": {"field": "v", "type": "quantitative"},
           "fill": {"field": "s", "type": "nominal", "legend": {"title": "C", "legendX": -111, "legendY": -138, "columns": 3, "columnPadding": 37}, "scale": {"domain": ["TIL 200 mg Q4W", "TIL 200 mg Q12W", "TIL 100 mg Q12W"], "range": ["#0F0F8A", "#1A7CC4", "#6AA342"]}},
           "stroke": {"field": "s", "type": "nominal", "legend": {"title": "C", "legendX": -111, "legendY": -138, "columns": 3, "columnPadding": 37}, "scale": {"domain": ["TIL 200 mg Q4W", "TIL 200 mg Q12W", "TIL 100 mg Q12W"], "range": ["#0F0F8A", "#1A7CC4", "#6AA342"]}},
           "shape": {"field": "s", "type": "nominal", "legend": {"title": "C", "legendX": -111, "legendY": -138, "columns": 3, "columnPadding": 37}, "scale": {"domain": ["TIL 200 mg Q4W", "TIL 200 mg Q12W", "TIL 100 mg Q12W"], "range": ["M-1,0H1M0,-0.45L0.5,0.4H-0.5Z", "M-1,0H1M0,0.45L0.5,-0.4H-0.5Z", "M-1,0H1M0.45,0A0.45,0.45,0,1,1,-0.45,0A0.45,0.45,0,1,1,0.45,0Z"]}}
         }},
        {"data": {"name": "acr70"}, "transform": [{"filter": "false"}], "mark": {"type": "point", "filled": true, "opacity": 1},
         "encoding": {"x": {"field": "w", "type": "quantitative"}, "y": {"field": "v", "type": "quantitative"},
           "fill": {"field": "s", "type": "nominal", "legend": {"title": null, "legendX": -18, "legendY": -111, "columns": 2, "columnPadding": 17}, "scale": {"domain": ["TIL 20 mg Q12W → 200 mg Q12W", "PBO Q4W → TIL 200 mg Q12W"], "range": ["#F2682C", "transparent"]}},
           "stroke": {"field": "s", "type": "nominal", "legend": {"title": null, "legendX": -18, "legendY": -111, "columns": 2, "columnPadding": 17}, "scale": {"domain": ["TIL 20 mg Q12W → 200 mg Q12W", "PBO Q4W → TIL 200 mg Q12W"], "range": ["#F2682C", "#6B6B6B"]}},
           "shape": {"field": "s", "type": "nominal", "legend": {"title": null, "legendX": -18, "legendY": -111, "columns": 2, "columnPadding": 17}, "scale": {"domain": ["TIL 20 mg Q12W → 200 mg Q12W", "PBO Q4W → TIL 200 mg Q12W"], "range": ["M-1,0H1M-0.42,-0.42H0.42V0.42H-0.42Z", "M-1,0H1M0.42,0A0.42,0.42,0,1,1,-0.42,0A0.42,0.42,0,1,1,0.42,0Z"]}}
         }},
        {"data": {"name": "ann70"}, "transform": [{"filter": "datum.t === '*'"}], "mark": {"type": "text", "fontSize": 17, "fontWeight": "bold", "dy": 4, "align": "center", "baseline": "middle"},
         "encoding": {"x": {"field": "w", "type": "quantitative"}, "y": {"field": "v", "type": "quantitative"}, "text": {"field": "t"},
           "color": {"field": "s", "type": "nominal", "legend": null, "scale": {"domain": ["TIL 200 mg Q4W", "TIL 200 mg Q12W", "TIL 100 mg Q12W", "TIL 20 mg Q12W → 200 mg Q12W", "PBO Q4W → TIL 200 mg Q12W"], "range": ["#0F0F8A", "#1A7CC4", "#6AA342", "#F2682C", "#6B6B6B"]}}}},
        {"data": {"name": "ann70"}, "transform": [{"filter": "datum.t !== '*'"}], "mark": {"type": "text", "fontSize": 15, "align": "center", "baseline": "middle"},
         "encoding": {"x": {"field": "w", "type": "quantitative"}, "y": {"field": "v", "type": "quantitative"}, "text": {"field": "t"},
           "color": {"field": "s", "type": "nominal", "legend": null, "scale": {"domain": ["TIL 200 mg Q4W", "TIL 200 mg Q12W", "TIL 100 mg Q12W", "TIL 20 mg Q12W → 200 mg Q12W", "PBO Q4W → TIL 200 mg Q12W"], "range": ["#0F0F8A", "#1A7CC4", "#6AA342", "#F2682C", "#6B6B6B"]}}}}
      ]
    }
  ]
}
